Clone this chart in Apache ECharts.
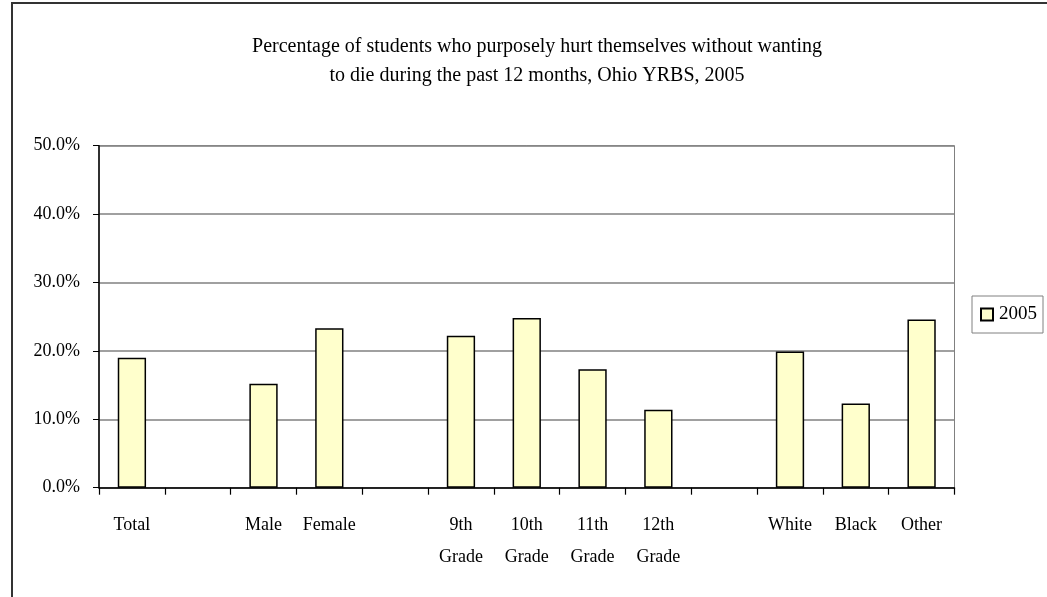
<!DOCTYPE html>
<html style="height: 100%" lang="en">

<head>
  <meta charset="utf-8">
  <script type="text/javascript" src="https://cdn.jsdelivr.net/npm/echarts@6/dist/echarts.min.js"></script>
</head>

<body style="height: 100%; margin: 0; background: #fff">
  <div id="container" style="width: 1047px; height: 597px"></div>
  <script type="text/javascript">
    var categories = ['Total', ' ', 'Male', 'Female', '  ', '9th\nGrade', '10th\nGrade', '11th\nGrade', '12th\nGrade', '   ', 'White', 'Black', 'Other'];
    var values2005 = [19.0, null, 15.2, 23.3, null, 22.2, 24.8, 17.3, 11.4, null, 19.9, 12.3, 24.6];
    var titleLines = ['Percentage of students who purposely hurt themselves without wanting', 'to die during the past 12 months, Ohio YRBS, 2005'];

    var font = 'Liberation Serif';
    var myChart = echarts.init(document.getElementById('container'));

    var option = {
      animation: false,
      backgroundColor: '#fff',
      title: {
        text: titleLines.join('\n'),
        left: 532,
        top: 27,
        textAlign: 'center',
        textStyle: {
          fontFamily: font,
          fontWeight: 'normal',
          fontSize: 20,
          lineHeight: 29,
          color: '#000'
        }
      },
      legend: {
        data: ['2005'],
        icon: 'rect',
        orient: 'vertical',
        left: 972,
        top: 296,
        padding: [9, 6, 9, 8],
        borderColor: '#808080',
        borderWidth: 1,
        backgroundColor: '#fff',
        itemWidth: 12,
        itemHeight: 12,
        textStyle: { fontFamily: font, fontSize: 19, color: '#000', padding: [0, 0, 0, 1] }
      },
      graphic: [{
        type: 'rect',
        shape: { x: 12, y: 3, width: 1100, height: 700 },
        style: { fill: 'none', stroke: '#333', lineWidth: 2 },
        silent: true
      }],
      grid: {
        left: 99,
        right: 92.5,
        top: 145.7,
        bottom: 109.3,
        show: true,
        borderColor: '#808080',
        borderWidth: 1
      },
      xAxis: {
        type: 'category',
        data: categories,
        axisLine: { lineStyle: { color: '#000', width: 1.5 } },
        axisTick: { show: true, length: 7, lineStyle: { color: '#000', width: 1.2 } },
        axisLabel: {
          interval: 0,
          fontFamily: font,
          fontSize: 18,
          lineHeight: 32,
          color: '#000',
          margin: 22,
          verticalAlign: 'top'
        }
      },
      yAxis: {
        type: 'value',
        min: 0,
        max: 50,
        interval: 10,
        axisLine: { show: true, lineStyle: { color: '#000', width: 1.5 } },
        axisTick: { show: true, length: 6, lineStyle: { color: '#000' } },
        splitLine: { lineStyle: { color: '#808080', width: 1.5 } },
        axisLabel: {
          fontFamily: font,
          fontSize: 18,
          color: '#000',
          margin: 19,
          formatter: function (v) { return v.toFixed(1) + '%'; }
        }
      },
      series: [{
        name: '2005',
        type: 'bar',
        data: values2005,
        barWidth: '43%',
        itemStyle: { color: '#FFFFCC', borderColor: '#000', borderWidth: 1.5 }
      }]
    };
    myChart.setOption(option);
  </script>
</body>

</html>
